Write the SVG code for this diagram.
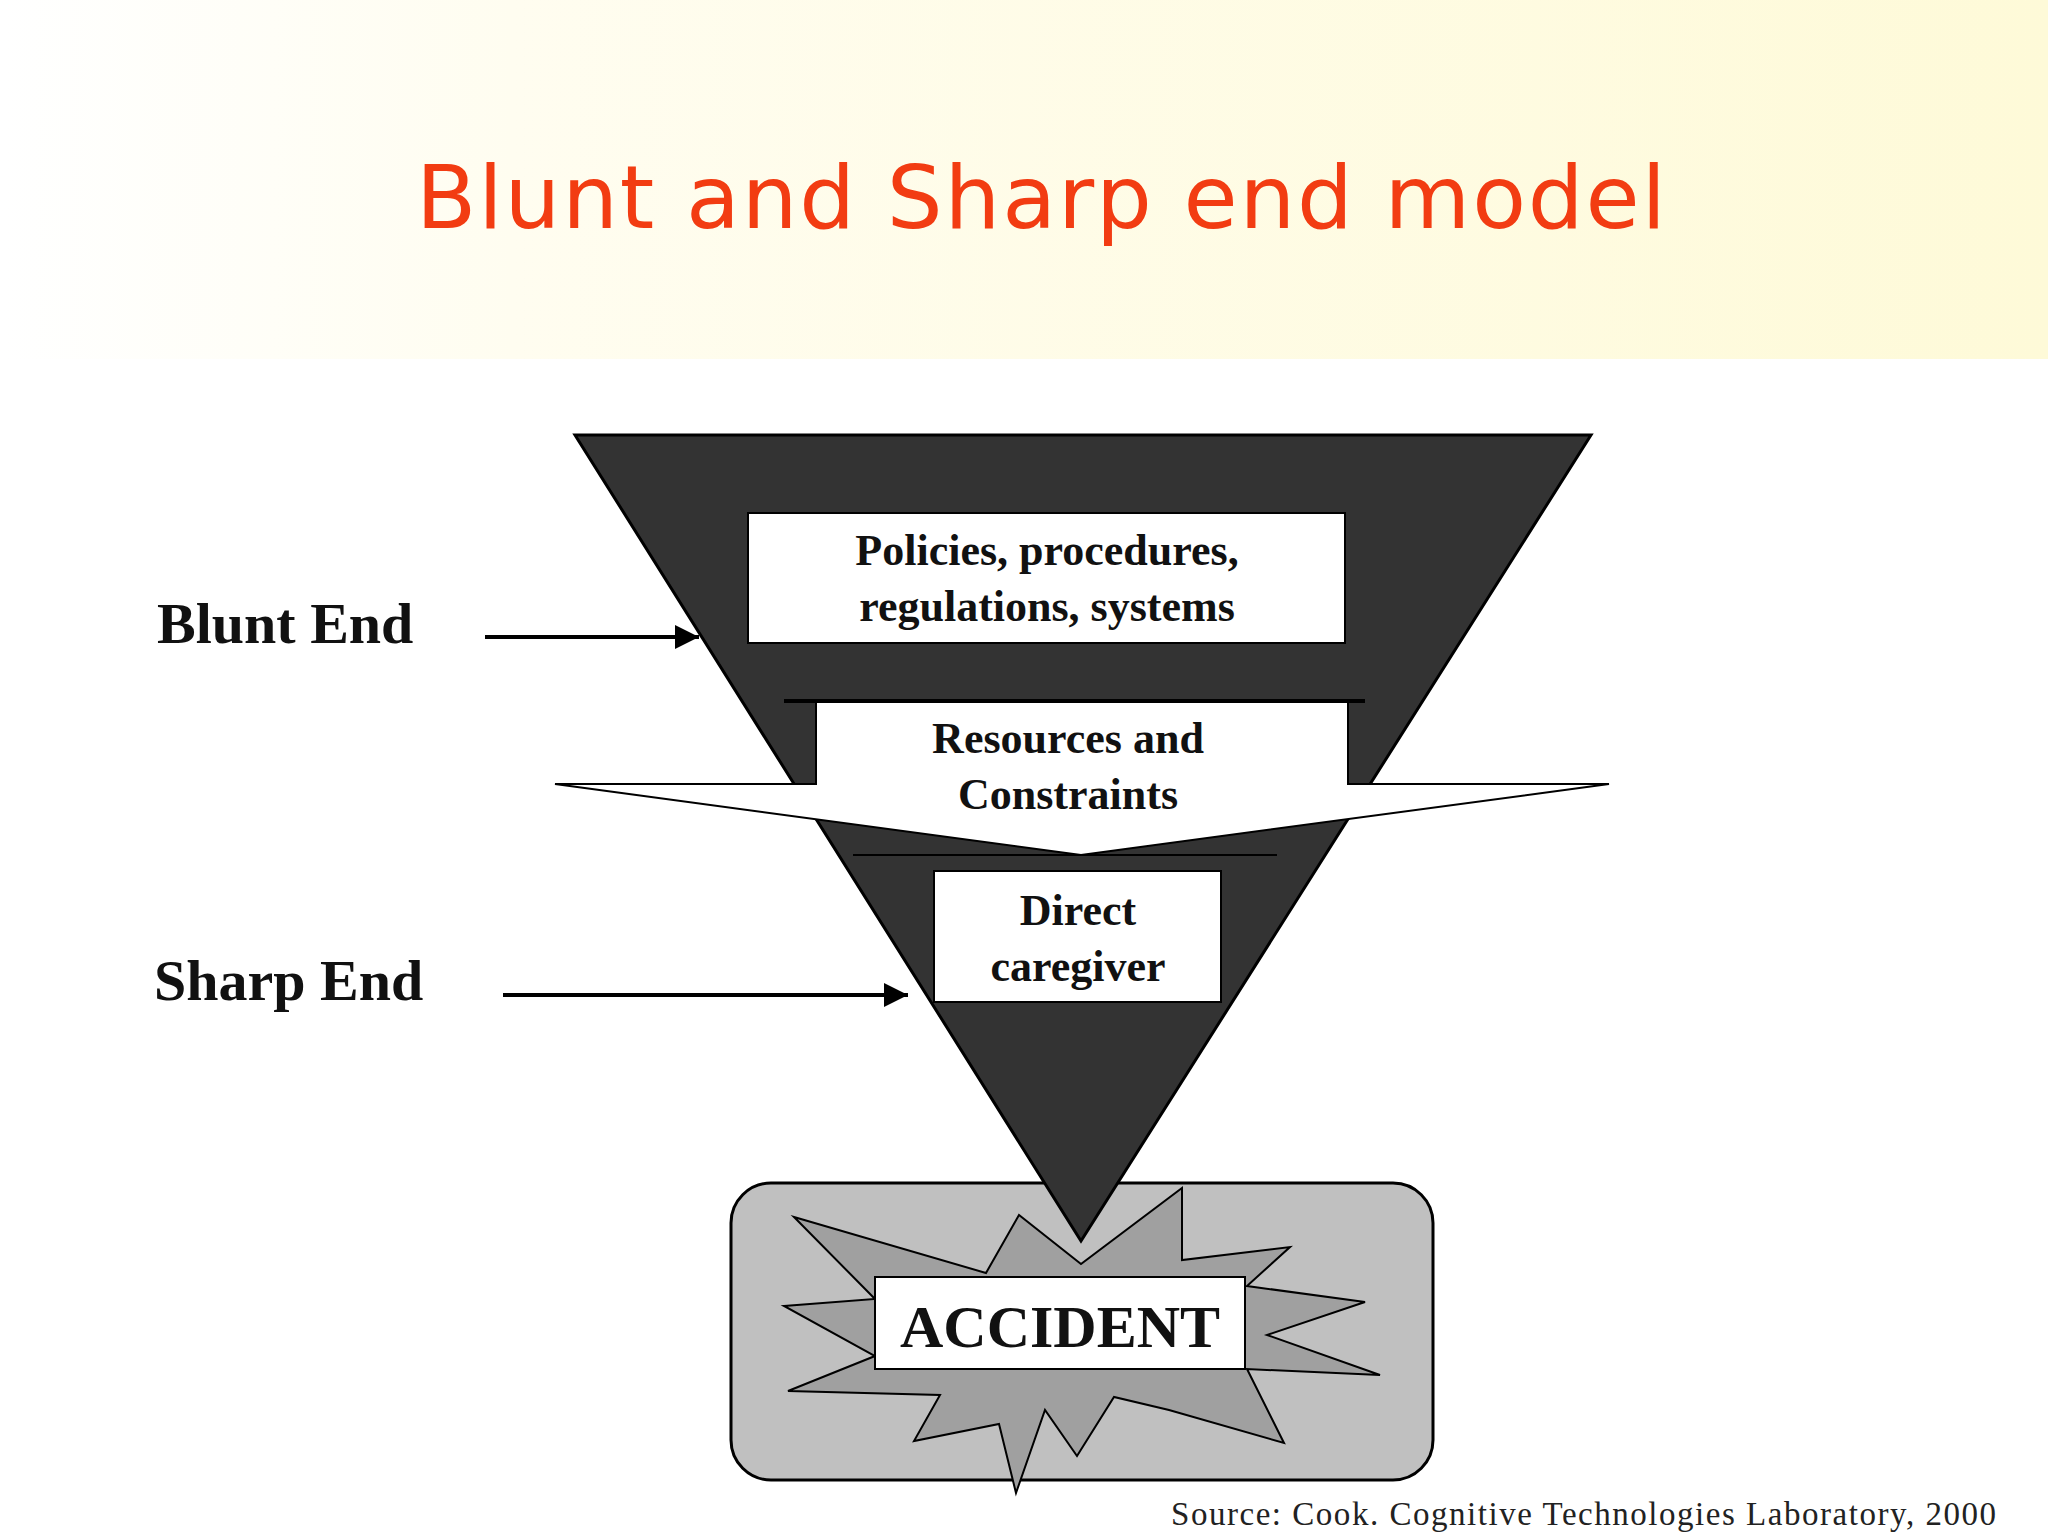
<svg xmlns="http://www.w3.org/2000/svg" width="2048" height="1536" viewBox="0 0 2048 1536">
<defs>
<linearGradient id="hdr" x1="0" y1="0" x2="1" y2="0">
<stop offset="0" stop-color="#ffffff"/><stop offset="0.25" stop-color="#fffdf0"/><stop offset="1" stop-color="#fefad8"/>
</linearGradient>
<marker id="ah" viewBox="0 0 10 10" refX="10" refY="5" markerWidth="6" markerHeight="6" orient="auto"><path d="M0,0 L10,5 L0,10 z" fill="#000"/></marker>
<style>
.lbl{font-family:"Liberation Serif",serif;font-weight:bold;fill:#111;text-anchor:middle}
.box{fill:#fff;stroke:#000;stroke-width:2}
.side{font-family:"Liberation Serif",serif;font-weight:bold;font-size:58px;fill:#111}
.conn{stroke:#000;stroke-width:4;fill:none;marker-end:url(#ah)}
</style>
</defs>
<rect width="2048" height="1536" fill="#fff"/>
<rect width="2048" height="359" fill="url(#hdr)"/>
<text x="1041" y="228" font-family="'DejaVu Sans',Verdana,sans-serif" font-size="88" fill="#f23c12" text-anchor="middle" textLength="1250">Blunt and Sharp end model</text>

<g id="accident">
<rect x="731" y="1183" width="702" height="297" rx="40" fill="#c0c0c0" stroke="#000" stroke-width="3"/>
<polygon points="794,1217 986,1273 1019,1215 1081,1264 1182,1188 1182,1260 1290,1247 1247,1286 1365,1302 1267,1335 1380,1375 1247,1369 1284,1443 1169,1410 1114,1397 1077,1456 1045,1410 1016,1493 999,1424 914,1441 940,1395 788,1391 875,1356 784,1306 875,1299" fill="#a0a0a0" stroke="#000" stroke-width="2"/>
</g>

<g id="triangle">
<polygon points="575,435 1591,435 1081,1241" fill="#333" stroke="#000" stroke-width="3"/>
</g>

<g id="policies">
<rect class="box" x="748" y="513" width="597" height="130"/>
<text class="lbl" x="1047" y="565" font-size="44">Policies, procedures,</text>
<text class="lbl" x="1047" y="621" font-size="44">regulations, systems</text>
</g>

<g id="resources">
<polygon points="816,701 1348,701 1348,784 1609,784 1081,855 555,784 816,784" fill="#fff" stroke="#000" stroke-width="2"/>
<line x1="784" y1="701" x2="1365" y2="701" stroke="#000" stroke-width="4"/>
<line x1="853" y1="855" x2="1277" y2="855" stroke="#000" stroke-width="2"/>
<text class="lbl" x="1068" y="753" font-size="44">Resources and</text>
<text class="lbl" x="1068" y="809" font-size="44">Constraints</text>
</g>

<g id="caregiver">
<rect class="box" x="934" y="871" width="287" height="131"/>
<text class="lbl" x="1078" y="925" font-size="44">Direct</text>
<text class="lbl" x="1078" y="981" font-size="44">caregiver</text>
</g>

<g id="accident-label">
<rect class="box" x="875" y="1277" width="370" height="92"/>
<text class="lbl" x="1060" y="1347" font-size="60">ACCIDENT</text>
</g>

<g id="blunt"><text class="side" x="157" y="643">Blunt End</text></g>
<g id="sharp"><text class="side" x="154" y="1000">Sharp End</text></g>

<g id="connectors">
<line class="conn" x1="485" y1="637" x2="699" y2="637"/>
<line class="conn" x1="503" y1="995" x2="908" y2="995"/>
</g>

<text x="1171" y="1525" font-family="'Liberation Serif',serif" font-size="33" fill="#222" textLength="825">Source: Cook. Cognitive Technologies Laboratory, 2000</text>
</svg>
